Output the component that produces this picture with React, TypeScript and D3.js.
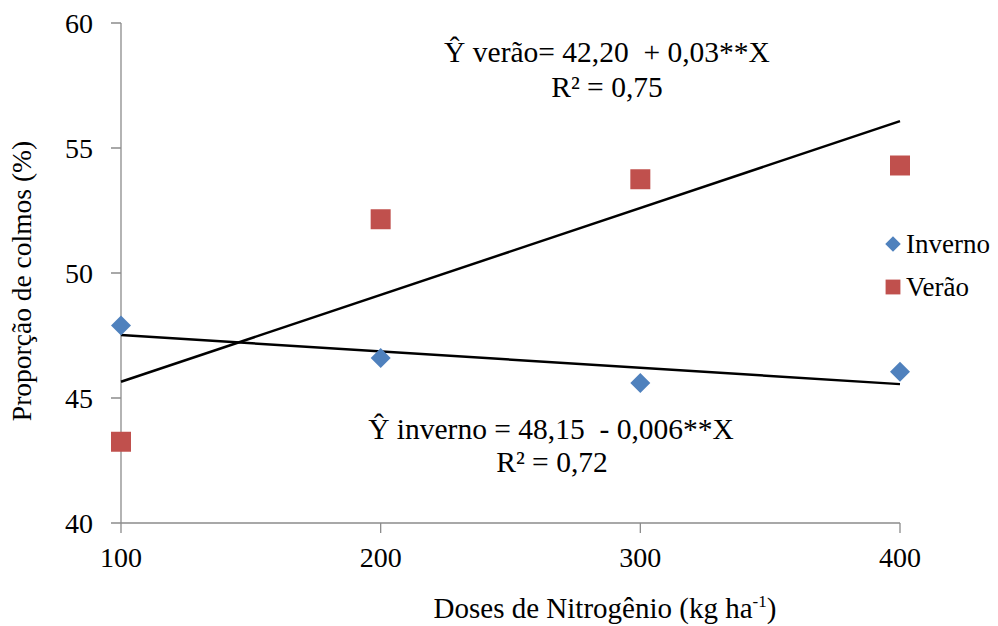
import React, { useEffect, useRef } from "react";
import * as d3 from "d3";

// doses de nitrogênio (kg/ha)
const doses = [100, 200, 300, 400];
const inverno = [47.9, 46.6, 45.6, 46.05];
const verao = [43.25, 52.15, 53.75, 54.3];
const yTicks = [40, 45, 50, 55, 60];
const seriesNames = ["Inverno", "Verão"];
const seriesColors = ["#4F81BD", "#C0504D"];

const FONT = "'Liberation Serif', 'Times New Roman', Times, serif";
const AXIS = "#8c8c8c";

// linear trend (least squares), like Excel's trendline
function fit(xs: number[], ys: number[]) {
  const mx = d3.mean(xs)!;
  const my = d3.mean(ys)!;
  const sxy = d3.sum(xs, (x, i) => (x - mx) * (ys[i] - my));
  const sxx = d3.sum(xs, (x) => (x - mx) ** 2);
  const b = sxy / sxx;
  return (x: number) => my + b * (x - mx);
}

export default function App() {
  const ref = useRef<SVGSVGElement>(null);

  useEffect(() => {
    const svg = d3.select(ref.current);
    svg.selectAll("*").remove();

    const x = d3.scaleLinear().domain([100, 400]).range([121, 900]);
    const y = d3.scaleLinear().domain([40, 60]).range([523, 23]);
    const x0 = x.range()[0];
    const y0 = y.range()[0];

    const g = svg.append("g").attr("font-family", FONT);

    // axis frame + y ticks
    const p = d3.path();
    p.moveTo(x0, y(60));
    p.lineTo(x0, y0);
    p.lineTo(x(400), y0);
    yTicks.forEach((t) => {
      p.moveTo(x0 - 10, y(t));
      p.lineTo(x0, y(t));
    });
    g.append("path")
      .attr("d", p.toString())
      .attr("fill", "none")
      .attr("stroke", AXIS)
      .attr("stroke-width", 1.3);

    // x ticks
    const q = d3.path();
    doses.forEach((d) => {
      q.moveTo(x(d), y0);
      q.lineTo(x(d), y0 + 10);
    });
    g.append("path")
      .attr("d", q.toString())
      .attr("fill", "none")
      .attr("stroke", AXIS)
      .attr("stroke-width", 1.3);

    g.selectAll(".yl")
      .data(yTicks)
      .join("text")
      .attr("class", "yl")
      .attr("x", x0 - 28)
      .attr("y", (d) => y(d))
      .attr("dy", "0.34em")
      .attr("text-anchor", "end")
      .attr("font-size", 28)
      .text((d) => d);

    g.selectAll(".xl")
      .data(doses)
      .join("text")
      .attr("class", "xl")
      .attr("x", (d) => x(d))
      .attr("y", y0 + 44)
      .attr("text-anchor", "middle")
      .attr("font-size", 28)
      .text((d) => d);

    // trend lines
    [inverno, verao].forEach((vals) => {
      const f = fit(doses, vals);
      g.append("path")
        .attr(
          "d",
          d3.line<number>()
            .x((d) => x(d))
            .y((d) => y(f(d)))([100, 400])
        )
        .attr("fill", "none")
        .attr("stroke", "#000")
        .attr("stroke-width", 2.5);
    });

    // markers
    g.selectAll(".inv")
      .data(doses)
      .join("path")
      .attr("class", "inv")
      .attr("d", d3.symbol().type(d3.symbolSquare).size(200)())
      .attr("transform", (d, i) => `translate(${x(d)},${y(inverno[i])}) rotate(45)`)
      .attr("fill", seriesColors[0]);

    g.selectAll(".ver")
      .data(doses)
      .join("path")
      .attr("class", "ver")
      .attr("d", d3.symbol().type(d3.symbolSquare).size(400)())
      .attr("transform", (d, i) => `translate(${x(d)},${y(verao[i])})`)
      .attr("fill", seriesColors[1]);

    // legend
    const leg = g.append("g");
    leg.append("path")
      .attr("d", d3.symbol().type(d3.symbolSquare).size(120)())
      .attr("transform", "translate(893,244) rotate(45)")
      .attr("fill", seriesColors[0]);
    leg.append("path")
      .attr("d", d3.symbol().type(d3.symbolSquare).size(220)())
      .attr("transform", "translate(893,287)")
      .attr("fill", seriesColors[1]);
    seriesNames.forEach((n, i) => {
      leg.append("text")
        .attr("x", 906)
        .attr("y", 253 + i * 43)
        .attr("font-size", 27)
        .text(n);
    });

    // equations
    const ann = (txt: string, cx: number, cy: number) =>
      g.append("text")
        .attr("x", cx)
        .attr("y", cy)
        .attr("text-anchor", "middle")
        .attr("font-size", 29.5)
        .style("white-space", "pre")
        .text(txt);
    ann("Ŷ verão= 42,20  + 0,03**X", 607, 62);
    ann("R² = 0,75", 607, 97);
    ann("Ŷ inverno = 48,15  - 0,006**X", 551, 439);
    ann("R² = 0,72", 552, 472);

    // axis titles
    g.append("text")
      .attr("transform", "translate(31,281) rotate(-90)")
      .attr("text-anchor", "middle")
      .attr("font-size", 27.5)
      .text("Proporção de colmos (%)");

    const xt = g.append("text")
      .attr("x", 605)
      .attr("y", 618)
      .attr("text-anchor", "middle")
      .attr("font-size", 29);
    xt.append("tspan").text("Doses de Nitrogênio (kg ha");
    xt.append("tspan").attr("font-size", 17).attr("dy", -11).text("-1");
    xt.append("tspan").attr("dy", 11).text(")");
  }, []);

  return (
    <svg
      ref={ref}
      width={998}
      height={626}
      style={{ position: "absolute", left: 0, top: 0, background: "#fff" }}
    />
  );
}
